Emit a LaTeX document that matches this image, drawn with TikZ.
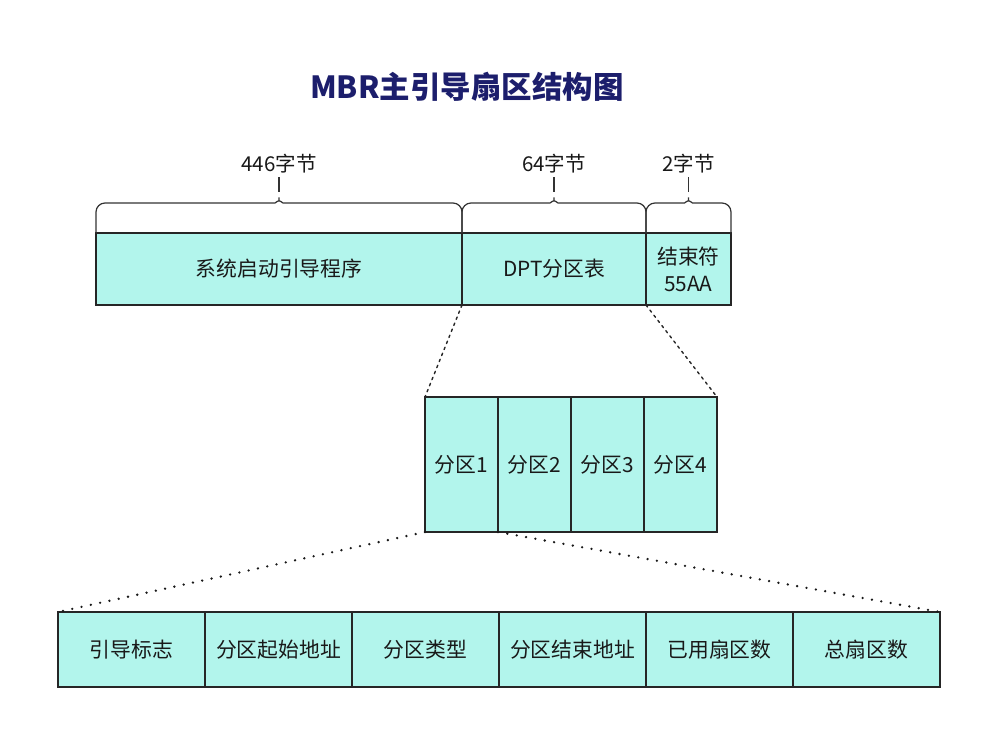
\documentclass[tikz,border=0pt]{standalone}
\usepackage{fontspec}
\setmainfont{Noto Sans CJK SC}
\usepackage{xcolor}
\usetikzlibrary{positioning, calc}

\definecolor{cellfill}{RGB}{178,245,236}
\definecolor{titleblue}{RGB}{28,30,108}

\begin{document}
\begin{tikzpicture}[
    x=1pt, y=-1pt,
    cell/.style={rectangle, draw=black!85, fill=cellfill, line width=1.3pt, outer sep=0pt, inner sep=0pt, align=center, font=\fontsize{20.8}{27}\selectfont, text=black!90},
    topcell/.style={cell, minimum height=72pt},
    partcell/.style={cell, minimum width=73pt, minimum height=135pt},
    fieldcell/.style={cell, minimum width=147pt, minimum height=75pt},
    bracket/.style={draw=black!80, line width=1.2pt},
    zoomline/.style={black!85, line width=1.4pt, line cap=round, dash pattern=on 2.5pt off 4pt},
    dotline/.style={black!90, line width=2.6pt, line cap=round, dash pattern=on 0pt off 9.5pt}
]
\useasboundingbox[fill=white] (0,0) rectangle (994,738);

% Title
\node[font=\fontsize{30.5}{36}\selectfont\bfseries, text=titleblue] (title) at (467,87) {MBR主引导扇区结构图};

% Top row: MBR sector
\node[topcell, minimum width=366pt, anchor=north west] (sys) at (96,233) {系统启动引导程序};
\node[topcell, minimum width=184pt, right=0pt of sys] (dpt) {DPT分区表};
\node[topcell, minimum width=85pt, right=0pt of dpt] (eos) {结束符\\55AA};

% Byte counts
\foreach \n/\t in {sys/446字节, dpt/64字节, eos/2字节} {
  \draw[bracket, rounded corners=9pt] (\n.north west) |- ($(\n.north)+(-13,-30)$)
    .. controls ($(\n.north)+(-4,-30)$) and ($(\n.north)+(0,-33)$) .. ($(\n.north)+(0,-41)$)
    .. controls ($(\n.north)+(0,-33)$) and ($(\n.north)+(4,-30)$) .. ($(\n.north)+(13,-30)$)
    -| (\n.north east);
  \draw[bracket] ($(\n.north)+(0,-41)$) -- ++(0,-15)
    node[above=0pt, font=\fontsize{20.5}{24}\selectfont, text=black!90] (lbl-\n) {\t};
}

% Middle row: partition table
\node[partcell, anchor=north west] (p1) at (425,397) {分区1};
\node[partcell, right=0pt of p1] (p2) {分区2};
\node[partcell, right=0pt of p2] (p3) {分区3};
\node[partcell, right=0pt of p3] (p4) {分区4};

% Bottom row: partition entry
\node[fieldcell, anchor=north west] (f1) at (58,612) {引导标志};
\node[fieldcell, right=0pt of f1] (f2) {分区起始地址};
\node[fieldcell, right=0pt of f2] (f3) {分区类型};
\node[fieldcell, right=0pt of f3] (f4) {分区结束地址};
\node[fieldcell, right=0pt of f4] (f5) {已用扇区数};
\node[fieldcell, right=0pt of f5] (f6) {总扇区数};

% Zoom lines
\draw[zoomline] (dpt.south west) -- (p1.north west);
\draw[zoomline] (dpt.south east) -- (p4.north east);
\draw[dotline] (p1.south west) -- (f1.north west);
\draw[dotline] (p1.south east) -- (f6.north east);

\end{tikzpicture}
\end{document}
